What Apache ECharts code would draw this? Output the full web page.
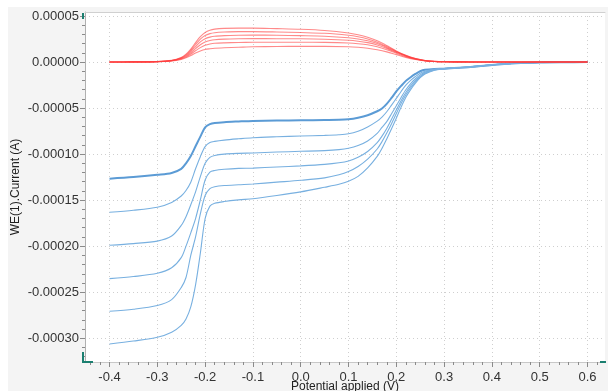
<!DOCTYPE html>
<html><head><meta charset="utf-8">
<script src="https://cdn.jsdelivr.net/npm/echarts@6/dist/echarts.min.js"></script>
<style>html,body{margin:0;padding:0;background:#fff}#c{width:608px;height:391px}</style>
</head><body><div id="c"></div>
<script>
// ---- axis ticks / labels ----
const xMajor = [-0.4,-0.3,-0.2,-0.1,0,0.1,0.2,0.3,0.4,0.5,0.6];
const xMinor = [-0.44,-0.42,-0.38,-0.36,-0.34,-0.32,-0.28,-0.26,-0.24,-0.22,-0.18,-0.16,-0.14,-0.12,-0.08,-0.06,-0.04,-0.02,0.02,0.04,0.06,0.08,0.12,0.14,0.16,0.18,0.22,0.24,0.26,0.28,0.32,0.34,0.36,0.38,0.42,0.44,0.46,0.48,0.52,0.54,0.56,0.58,0.62];
const yMajor = [0.00005,0,-0.00005,-0.0001,-0.00015,-0.0002,-0.00025,-0.0003];
const yMinor = [0.00004,0.00003,0.00002,0.00001,-0.00001,-0.00002,-0.00003,-0.00004,-0.00006,-0.00007,-0.00008,-0.00009,-0.00011,-0.00012,-0.00013,-0.00014,-0.00016,-0.00017,-0.00018,-0.00019,-0.00021,-0.00022,-0.00023,-0.00024,-0.00026,-0.00027,-0.00028,-0.00029,-0.00031,-0.00032];
const xTitle = 'Potential applied (V)';
const yTitle = 'WE(1).Current (A)';

// ---- disk (blue) currents, A ----
const bx = [-0.4,-0.35,-0.3,-0.27,-0.25,-0.24,-0.23,-0.22,-0.21,-0.2,-0.19,-0.18,-0.16,-0.13,-0.1,-0.05,0,0.05,0.08,0.1,0.12,0.14,0.16,0.17,0.18,0.19,0.2,0.21,0.22,0.23,0.24,0.25,0.26,0.28,0.3,0.35,0.4,0.45,0.5,0.55,0.6];
const blue1 = [-1.267e-4,-1.25e-4,-1.225e-4,-1.205e-4,-1.16e-4,-1.10e-4,-1.02e-4,-0.915e-4,-0.81e-4,-0.71e-4,-0.675e-4,-0.662e-4,-0.653e-4,-0.646e-4,-0.640e-4,-0.636e-4,-0.633e-4,-0.630e-4,-0.628e-4,-0.622e-4,-0.605e-4,-0.578e-4,-0.535e-4,-0.505e-4,-0.455e-4,-0.39e-4,-0.32e-4,-0.26e-4,-0.205e-4,-0.165e-4,-0.13e-4,-0.10e-4,-0.085e-4,-0.075e-4,-0.072e-4,-0.058e-4,-0.032e-4,-0.014e-4,-0.005e-4,-0.002e-4,-0.001e-4];
const blue2 = [-1.632e-4,-1.61e-4,-1.577e-4,-1.525e-4,-1.455e-4,-1.395e-4,-1.305e-4,-1.16e-4,-1.028e-4,-0.919e-4,-0.875e-4,-0.862e-4,-0.848e-4,-0.834e-4,-0.822e-4,-0.812e-4,-0.804e-4,-0.797e-4,-0.790e-4,-0.780e-4,-0.752e-4,-0.705e-4,-0.642e-4,-0.598e-4,-0.54e-4,-0.468e-4,-0.395e-4,-0.32e-4,-0.252e-4,-0.20e-4,-0.158e-4,-0.122e-4,-0.10e-4,-0.078e-4,-0.07e-4,-0.055e-4,-0.03e-4,-0.013e-4,-0.005e-4,-0.002e-4,-0.001e-4];
const blue3 = [-1.99e-4,-1.972e-4,-1.945e-4,-1.89e-4,-1.775e-4,-1.68e-4,-1.55e-4,-1.41e-4,-1.245e-4,-1.10e-4,-1.035e-4,-1.015e-4,-1.0e-4,-0.992e-4,-0.988e-4,-0.978e-4,-0.97e-4,-0.962e-4,-0.952e-4,-0.937e-4,-0.907e-4,-0.857e-4,-0.775e-4,-0.71e-4,-0.648e-4,-0.562e-4,-0.475e-4,-0.385e-4,-0.302e-4,-0.235e-4,-0.182e-4,-0.14e-4,-0.11e-4,-0.08e-4,-0.07e-4,-0.055e-4,-0.03e-4,-0.013e-4,-0.005e-4,-0.002e-4,-0.001e-4];
const blue4 = [-2.353e-4,-2.33e-4,-2.295e-4,-2.235e-4,-2.125e-4,-2.0e-4,-1.855e-4,-1.70e-4,-1.498e-4,-1.281e-4,-1.195e-4,-1.178e-4,-1.165e-4,-1.155e-4,-1.152e-4,-1.14e-4,-1.128e-4,-1.112e-4,-1.095e-4,-1.075e-4,-1.035e-4,-0.972e-4,-0.875e-4,-0.805e-4,-0.722e-4,-0.622e-4,-0.52e-4,-0.42e-4,-0.332e-4,-0.26e-4,-0.20e-4,-0.155e-4,-0.12e-4,-0.085e-4,-0.072e-4,-0.055e-4,-0.03e-4,-0.013e-4,-0.005e-4,-0.002e-4,-0.001e-4];
const blue5 = [-2.707e-4,-2.685e-4,-2.645e-4,-2.58e-4,-2.45e-4,-2.34e-4,-2.10e-4,-1.90e-4,-1.65e-4,-1.45e-4,-1.375e-4,-1.355e-4,-1.342e-4,-1.333e-4,-1.325e-4,-1.305e-4,-1.285e-4,-1.258e-4,-1.225e-4,-1.19e-4,-1.135e-4,-1.055e-4,-0.945e-4,-0.865e-4,-0.772e-4,-0.67e-4,-0.56e-4,-0.45e-4,-0.355e-4,-0.28e-4,-0.215e-4,-0.165e-4,-0.125e-4,-0.087e-4,-0.072e-4,-0.055e-4,-0.03e-4,-0.013e-4,-0.005e-4,-0.002e-4,-0.001e-4];
const blue6 = [-3.062e-4,-3.03e-4,-2.99e-4,-2.935e-4,-2.86e-4,-2.79e-4,-2.66e-4,-2.42e-4,-2.077e-4,-1.70e-4,-1.565e-4,-1.535e-4,-1.515e-4,-1.497e-4,-1.485e-4,-1.45e-4,-1.41e-4,-1.36e-4,-1.328e-4,-1.295e-4,-1.242e-4,-1.15e-4,-1.025e-4,-0.938e-4,-0.835e-4,-0.725e-4,-0.61e-4,-0.49e-4,-0.382e-4,-0.30e-4,-0.23e-4,-0.17e-4,-0.13e-4,-0.09e-4,-0.072e-4,-0.055e-4,-0.03e-4,-0.013e-4,-0.005e-4,-0.002e-4,-0.001e-4];

// ---- ring (red) currents, A ----
const rx = [-0.4,-0.35,-0.3,-0.27,-0.25,-0.24,-0.23,-0.22,-0.21,-0.2,-0.19,-0.18,-0.16,-0.13,-0.1,-0.05,0,0.05,0.1,0.12,0.14,0.16,0.18,0.2,0.22,0.24,0.26,0.28,0.3,0.35,0.4,0.5,0.6];
const red1 = [0,0.01e-5,0.05e-5,0.18e-5,0.5e-5,0.85e-5,1.4e-5,2.1e-5,2.75e-5,3.2e-5,3.45e-5,3.57e-5,3.65e-5,3.68e-5,3.68e-5,3.62e-5,3.55e-5,3.42e-5,3.15e-5,2.95e-5,2.68e-5,2.3e-5,1.78e-5,1.2e-5,0.72e-5,0.38e-5,0.17e-5,0.07e-5,0.03e-5,0.01e-5,0.005e-5,0,0];
const red2 = [0,0.01e-5,0.045e-5,0.16e-5,0.45e-5,0.77e-5,1.27e-5,1.9e-5,2.48e-5,2.87e-5,3.08e-5,3.18e-5,3.25e-5,3.3e-5,3.3e-5,3.26e-5,3.2e-5,3.12e-5,2.9e-5,2.74e-5,2.5e-5,2.15e-5,1.68e-5,1.15e-5,0.7e-5,0.37e-5,0.16e-5,0.065e-5,0.03e-5,0.01e-5,0.004e-5,0,0];
const red3 = [0,0.01e-5,0.04e-5,0.15e-5,0.41e-5,0.69e-5,1.13e-5,1.68e-5,2.18e-5,2.52e-5,2.7e-5,2.8e-5,2.86e-5,2.9e-5,2.92e-5,2.9e-5,2.86e-5,2.8e-5,2.64e-5,2.5e-5,2.3e-5,2.0e-5,1.58e-5,1.1e-5,0.67e-5,0.35e-5,0.15e-5,0.06e-5,0.025e-5,0.01e-5,0.004e-5,0,0];
const red4 = [0,0.01e-5,0.04e-5,0.14e-5,0.37e-5,0.61e-5,0.99e-5,1.45e-5,1.88e-5,2.17e-5,2.33e-5,2.42e-5,2.48e-5,2.52e-5,2.54e-5,2.53e-5,2.52e-5,2.47e-5,2.36e-5,2.26e-5,2.1e-5,1.85e-5,1.48e-5,1.04e-5,0.63e-5,0.33e-5,0.14e-5,0.055e-5,0.02e-5,0.008e-5,0.003e-5,0,0];
const red5 = [0,0.01e-5,0.035e-5,0.13e-5,0.33e-5,0.53e-5,0.85e-5,1.22e-5,1.56e-5,1.81e-5,1.95e-5,2.03e-5,2.08e-5,2.12e-5,2.14e-5,2.15e-5,2.15e-5,2.13e-5,2.06e-5,1.99e-5,1.87e-5,1.66e-5,1.34e-5,0.95e-5,0.58e-5,0.3e-5,0.13e-5,0.05e-5,0.02e-5,0.008e-5,0.003e-5,0,0];
const red6 = [0,0.01e-5,0.03e-5,0.11e-5,0.28e-5,0.45e-5,0.7e-5,0.98e-5,1.2e-5,1.36e-5,1.44e-5,1.5e-5,1.55e-5,1.6e-5,1.65e-5,1.68e-5,1.7e-5,1.7e-5,1.66e-5,1.6e-5,1.5e-5,1.33e-5,1.1e-5,0.8e-5,0.5e-5,0.27e-5,0.12e-5,0.05e-5,0.02e-5,0.008e-5,0.003e-5,0,0];

const blues = [blue1, blue2, blue3, blue4, blue5, blue6];
const reds = [red1, red2, red3, red4, red5, red6];

const XMIN = -0.4513, XMAX = 0.6366;
const YMIN = -0.0003258, YMAX = 0.0000543;

const zip = (xs, ys) => xs.map((x, i) => [x, ys[i]]);
const series = [];
blues.forEach((b, i) => series.push({
  type: 'line', name: 'disk' + (i + 1), data: zip(bx, b), showSymbol: false, symbol: 'none',
  smooth: 0.3, xAxisIndex: 0, yAxisIndex: 0, silent: true,
  lineStyle: { width: i === 0 ? 2 : 1.1, color: i === 0 ? '#5b9bd5' : '#78b0e0' }, z: 3
}));
reds.forEach((r, i) => series.push({
  type: 'line', name: 'ring' + (i + 1), data: zip(rx, r), showSymbol: false, symbol: 'none',
  smooth: 0.3, xAxisIndex: 0, yAxisIndex: 0, silent: true,
  lineStyle: { width: 1.1, color: 'rgba(255,60,60,0.6)' }, z: 4
}));

const fmtX = v => (Math.abs(v) < 1e-9 ? 0 : v).toFixed(1);
const fmtY = v => (Math.abs(v) < 1e-12 ? 0 : v).toFixed(5);
const labelFont = { fontFamily: 'Liberation Sans, Arial, sans-serif', fontSize: 13, color: '#333' };
const grid = '#cfcfcf';
const teal = '#1b7f70';

const chart = echarts.init(document.getElementById('c'), null, { renderer: 'canvas' });
chart.setOption({
  animation: false,
  backgroundColor: '#ffffff',
  graphic: [
    { type: 'rect', z: -100, shape: { x: 8, y: 7, width: 600, height: 384 }, style: { fill: '#f4f4f4' } },
    { type: 'rect', z: 100, shape: { x: 82, y: 13, width: 2, height: 6 }, style: { fill: teal } },
    { type: 'rect', z: 100, shape: { x: 82, y: 352, width: 2, height: 11 }, style: { fill: teal } },
    { type: 'rect', z: 100, shape: { x: 82, y: 361, width: 11, height: 2 }, style: { fill: teal } },
    { type: 'rect', z: 100, shape: { x: 600, y: 361, width: 6, height: 2 }, style: { fill: teal } }
  ],
  grid: { left: 85, right: 3, top: 12, bottom: 29, show: true, backgroundColor: '#ffffff', borderWidth: 0, outerBoundsMode: 'none', containLabel: false },
  xAxis: [
    {
      type: 'value', min: XMIN, max: XMAX, position: 'bottom',
      name: xTitle, nameLocation: 'middle', nameGap: 19, nameMoveOverlap: false,
      nameTextStyle: { fontFamily: 'Liberation Sans, Arial, sans-serif', fontSize: 12, color: '#222' },
      axisLine: { show: true, onZero: false, lineStyle: { color: '#c8c8c8', width: 1 } },
      axisTick: { show: true, customValues: xMajor, length: 5, lineStyle: { color: '#8a8a8a' } },
      axisLabel: Object.assign({ customValues: xMajor, formatter: fmtX, margin: 9 }, labelFont),
      splitLine: { show: true, lineStyle: { color: grid, type: [1, 3] } }
    },
    {
      type: 'value', min: XMIN, max: XMAX, position: 'bottom',
      axisLine: { show: false, onZero: false },
      axisTick: { show: true, customValues: xMinor, length: 3, lineStyle: { color: '#8a8a8a' } },
      axisLabel: { show: false }, splitLine: { show: false }
    },
    {
      type: 'value', min: XMIN, max: XMAX, position: 'top',
      axisLine: { show: true, onZero: false, lineStyle: { color: '#d0d0d0' } },
      axisTick: { show: false }, axisLabel: { show: false }, splitLine: { show: false }
    }
  ],
  yAxis: [
    {
      type: 'value', min: YMIN, max: YMAX, position: 'left',
      name: yTitle, nameLocation: 'middle', nameGap: 63, nameMoveOverlap: false,
      nameTextStyle: { fontFamily: 'Liberation Sans, Arial, sans-serif', fontSize: 12, color: '#222' },
      axisLine: { show: true, onZero: false, lineStyle: { color: '#b0b0b0', width: 1 } },
      axisTick: { show: true, customValues: yMajor, length: 5, lineStyle: { color: '#8a8a8a' } },
      axisLabel: Object.assign({ customValues: yMajor, formatter: fmtY, margin: 6 }, labelFont),
      splitLine: { show: true, lineStyle: { color: grid, type: [1, 3] } }
    },
    {
      type: 'value', min: YMIN, max: YMAX, position: 'left',
      axisLine: { show: false, onZero: false },
      axisTick: { show: true, customValues: yMinor, length: 3, lineStyle: { color: '#8a8a8a' } },
      axisLabel: { show: false }, splitLine: { show: false }
    }
  ],
  series: series
});
</script></body></html>
